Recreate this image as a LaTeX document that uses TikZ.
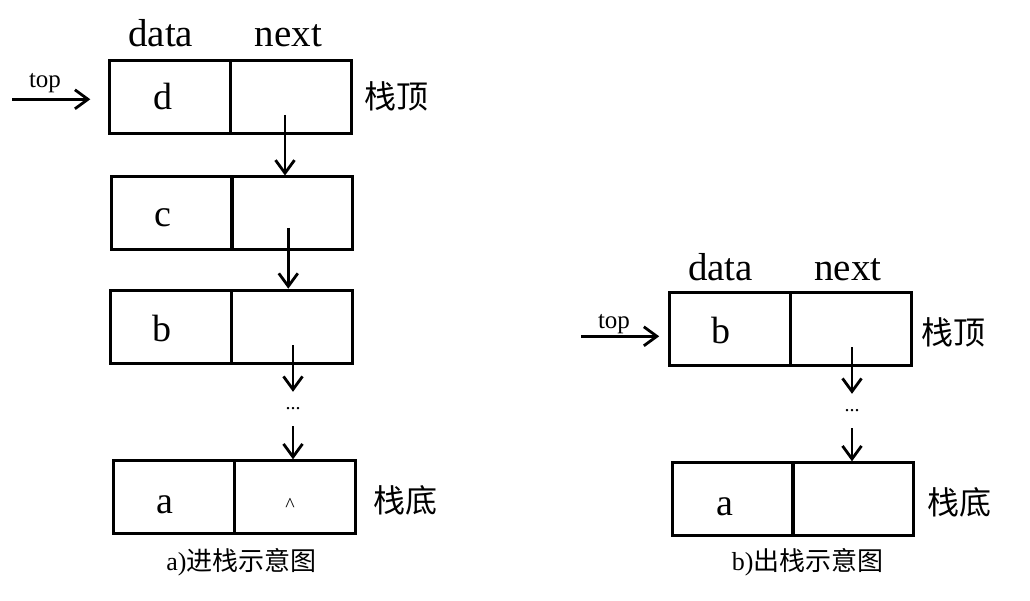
\documentclass[tikz,border=0pt]{standalone}
\usepackage{fontspec}
\setmainfont{Liberation Serif}
\newfontfamily\cjk{Noto Sans CJK SC}
\usetikzlibrary{arrows.meta}
\begin{document}
\begin{tikzpicture}[x=1pt,y=-1pt,
  cell/.style={draw,line width=3pt,minimum width=121pt,minimum height=73pt,inner sep=0pt},
  arr/.style={line width=2.8pt,-{Straight Barb[length=13pt,width=19pt,line width=2.8pt]}},
  head/.style={font=\fontsize{39}{41}\selectfont,anchor=base,inner sep=0pt},
  letter/.style={font=\fontsize{38}{40}\selectfont,anchor=base,inner sep=0pt},
  toplbl/.style={font=\fontsize{25}{27}\selectfont,anchor=base,inner sep=0pt},
  cn/.style={font=\cjk\fontsize{32}{34}\selectfont,inner sep=0pt},
  captext/.style={font=\fontsize{26}{28}\selectfont,inner sep=0pt},
  dotsnode/.style={font=\fontsize{20}{22}\selectfont,minimum height=34pt,inner sep=0pt}]
\useasboundingbox (0,0) rectangle (1030,601);
\fill[white] (0,0) rectangle (1030,601);

% ---------- left: a) ----------
\node[head] (Lh1) at (160.8,46.7) {data};
\node[head] (Lh2) at (288.3,46.7) {next};

\node[cell] (L1d) at (170.3,97) {};
\node[cell] (L1n) at (291,97) {};
\node[cell] (L2d) at (171.7,213.5) {};
\node[cell] (L2n) at (292,213.5) {};
\node[cell] (L3d) at (171,326.7) {};
\node[cell] (L3n) at (291.7,326.7) {};
\node[cell] (L4d) at (174,497.3) {};
\node[cell] (L4n) at (295,497.3) {};

\node[letter] (Ld) at (163,110) {d};
\node[letter] (Lc) at (162.5,226.7) {c};
\node[letter] (Lb) at (162,341.7) {b};
\node[letter] (La) at (165,513) {a};
\node[font=\fontsize{20}{22}\selectfont,anchor=base,inner sep=0pt] (Lnull) at (290,511) {\textasciicircum};

\node[toplbl] (Ltop) at (45,88) {top};
\draw[arr] ([xshift=-96pt,yshift=-2.3pt]L1d.west) -- ([xshift=-18pt,yshift=-2.3pt]L1d.west);

\node[cn] (Ltopl) at (396.7,96.7) {栈顶};
\node[cn] (Lbot) at (405.7,500) {栈底};

\coordinate (s1) at (285,115);
\draw[arr] (s1) -- (s1 |- L2n.north);
\coordinate (s2) at (288.3,228);
\draw[arr] (s2) -- (s2 |- L3n.north);
\node[dotsnode] (Ldots) at (293,409) {...};
\coordinate (s3) at (293,345.3);
\draw[arr] (s3) -- (Ldots.north);
\draw[arr] (Ldots.south) -- (Ldots.south |- L4n.north);

\node[captext] (Lcap) at (241.5,562) {a)\cjk 进栈示意图};

% ---------- right: b) ----------
\node[head] (Rh1) at (720.5,280.7) {data};
\node[head] (Rh2) at (847.8,280.7) {next};

\node[cell] (R1d) at (730.2,328.8) {};
\node[cell] (R1n) at (851.3,328.8) {};
\node[cell] (R2d) at (732.7,499.3) {};
\node[cell] (R2n) at (853.3,499.3) {};

\node[letter] (Rb) at (720.8,343.3) {b};
\node[letter] (Ra) at (724.7,515) {a};

\node[toplbl] (Rtop) at (614,328) {top};
\draw[arr] ([xshift=-87pt,yshift=-7.5pt]R1d.west) -- ([xshift=-9pt,yshift=-7.5pt]R1d.west);

\node[cn] (Rtopl) at (953.8,332.5) {栈顶};
\node[cn] (Rbot) at (959.5,502.5) {栈底};

\node[dotsnode] (Rdots) at (852,411) {...};
\coordinate (s4) at (852,347.3);
\draw[arr] (s4) -- (Rdots.north);
\draw[arr] (Rdots.south) -- (Rdots.south |- R2n.north);

\node[captext] (Rcap) at (807.8,562.5) {b)\cjk 出栈示意图};
\end{tikzpicture}
\end{document}
